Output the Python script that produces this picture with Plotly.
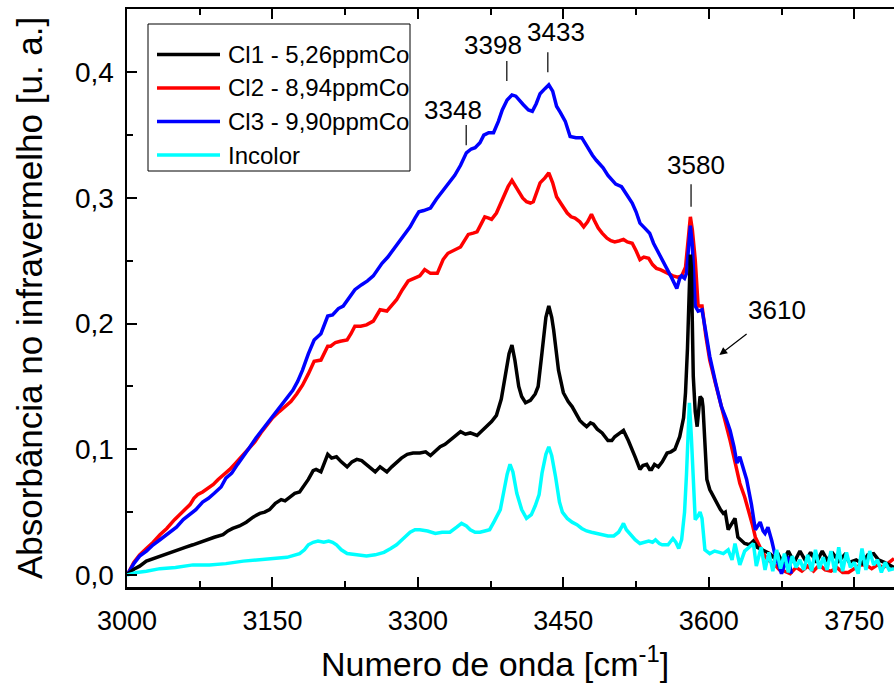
import plotly.graph_objects as go

# ---------------- data ----------------
names = ["Cl1 - 5,26ppmCo", "Cl2 - 8,94ppmCo", "Cl3 - 9,90ppmCo", "Incolor"]
colors = ["#000000", "#FF0000", "#0000FF", "#00FFFF"]

cl1_x = [3000, 3001, 3008, 3013, 3020, 3027, 3034, 3042, 3051, 3060, 3068, 3075, 3082, 3090, 3099, 3104, 3109, 3116,
         3123, 3130, 3137, 3142, 3147, 3153, 3159, 3163, 3168, 3173, 3178, 3183, 3187, 3192, 3195, 3200, 3204, 3207,
         3211, 3216, 3221, 3227, 3232, 3237, 3242, 3247, 3252, 3256, 3261, 3265, 3268, 3273, 3278, 3283, 3289, 3295,
         3302, 3308, 3313, 3318, 3323, 3328, 3333, 3338, 3344, 3349, 3354, 3361, 3366, 3371, 3376, 3381, 3386, 3390,
         3394, 3397, 3400, 3404, 3407, 3411, 3416, 3421, 3424, 3428, 3432, 3435, 3438, 3440, 3445, 3450, 3455, 3459,
         3463, 3467, 3471, 3474, 3478, 3481, 3485, 3490, 3496, 3500, 3503, 3508, 3512, 3517, 3521, 3524, 3529, 3532,
         3536, 3539, 3541, 3544, 3548, 3552, 3557, 3561, 3565, 3570, 3574, 3576, 3578, 3580, 3581, 3582, 3583, 3584,
         3586, 3588, 3591, 3593, 3594, 3596, 3598, 3601, 3603, 3606, 3609, 3612, 3615, 3617, 3620, 3624, 3627, 3630,
         3634, 3637, 3642, 3646, 3650, 3655, 3659, 3663, 3668, 3672, 3676, 3682, 3688, 3694, 3700, 3705, 3711, 3717,
         3722, 3728, 3734, 3740, 3745, 3752, 3758, 3764, 3770, 3775, 3781, 3786, 3791]
cl1_y = [0.000, 0.001, 0.005, 0.007, 0.011, 0.013, 0.015, 0.017, 0.020, 0.022, 0.024, 0.026, 0.028, 0.030, 0.032,
         0.035, 0.037, 0.039, 0.042, 0.046, 0.049, 0.050, 0.052, 0.057, 0.060, 0.059, 0.062, 0.065, 0.066, 0.071,
         0.076, 0.083, 0.084, 0.082, 0.090, 0.096, 0.093, 0.094, 0.090, 0.086, 0.090, 0.092, 0.091, 0.088, 0.085,
         0.082, 0.086, 0.084, 0.082, 0.086, 0.090, 0.093, 0.096, 0.097, 0.097, 0.098, 0.095, 0.099, 0.102, 0.104,
         0.107, 0.110, 0.114, 0.112, 0.113, 0.111, 0.115, 0.119, 0.122, 0.127, 0.140, 0.158, 0.176, 0.183, 0.171,
         0.150, 0.142, 0.137, 0.139, 0.144, 0.150, 0.177, 0.205, 0.214, 0.205, 0.195, 0.163, 0.145, 0.138, 0.134,
         0.128, 0.123, 0.120, 0.118, 0.121, 0.120, 0.116, 0.113, 0.107, 0.107, 0.110, 0.113, 0.115, 0.107, 0.100,
         0.094, 0.084, 0.087, 0.088, 0.084, 0.084, 0.088, 0.086, 0.090, 0.097, 0.098, 0.100, 0.110, 0.125, 0.145,
         0.180, 0.230, 0.255, 0.245, 0.200, 0.158, 0.130, 0.118, 0.142, 0.140, 0.134, 0.100, 0.076, 0.068, 0.065,
         0.062, 0.057, 0.052, 0.049, 0.050, 0.036, 0.042, 0.045, 0.030, 0.027, 0.025, 0.024, 0.027, 0.022, 0.020,
         0.018, 0.017, 0.013, 0.016, 0.010, 0.019, 0.010, 0.019, 0.011, 0.018, 0.010, 0.019, 0.012, 0.017, 0.011,
         0.016, 0.010, 0.012, 0.009, 0.016, 0.017, 0.012, 0.010, 0.008, 0.006]

cl2_x = [3000, 3001, 3007, 3013, 3020, 3027, 3034, 3041, 3049, 3057, 3065, 3069, 3073, 3078, 3083, 3089, 3094, 3100,
         3106, 3112, 3118, 3125, 3132, 3138, 3144, 3150, 3157, 3163, 3169, 3175, 3181, 3187, 3193, 3200, 3204, 3207,
         3210, 3215, 3220, 3227, 3231, 3235, 3241, 3247, 3254, 3258, 3261, 3268, 3273, 3278, 3284, 3290, 3296, 3302,
         3307, 3313, 3320, 3326, 3331, 3337, 3344, 3348, 3352, 3357, 3361, 3365, 3369, 3373, 3376, 3381, 3385, 3388,
         3393, 3397, 3401, 3404, 3408, 3412, 3416, 3419, 3423, 3426, 3431, 3435, 3439, 3443, 3448, 3454, 3458, 3462,
         3467, 3471, 3475, 3479, 3482, 3486, 3490, 3495, 3499, 3503, 3508, 3512, 3516, 3521, 3525, 3529, 3533, 3538,
         3542, 3546, 3550, 3555, 3559, 3563, 3568, 3572, 3576, 3579, 3581, 3583, 3586, 3589, 3593, 3597, 3601, 3607,
         3613, 3618, 3622, 3627, 3632, 3637, 3641, 3645, 3648, 3652, 3656, 3661, 3667, 3673, 3678, 3684, 3690, 3696,
         3702, 3708, 3714, 3720, 3726, 3732, 3738, 3744, 3750, 3756, 3762, 3768, 3774, 3780, 3786, 3791]
cl2_y = [0.000, 0.001, 0.010, 0.016, 0.021, 0.026, 0.032, 0.037, 0.044, 0.050, 0.056, 0.061, 0.064, 0.066, 0.069,
         0.072, 0.076, 0.080, 0.084, 0.089, 0.094, 0.100, 0.106, 0.113, 0.119, 0.125, 0.130, 0.134, 0.138, 0.144,
         0.151, 0.160, 0.170, 0.171, 0.177, 0.182, 0.182, 0.185, 0.186, 0.187, 0.192, 0.198, 0.198, 0.199, 0.202,
         0.207, 0.211, 0.210, 0.214, 0.219, 0.227, 0.234, 0.236, 0.238, 0.243, 0.240, 0.240, 0.251, 0.256, 0.258,
         0.261, 0.266, 0.271, 0.272, 0.273, 0.279, 0.285, 0.284, 0.283, 0.288, 0.295, 0.301, 0.309, 0.314, 0.309,
         0.304, 0.300, 0.297, 0.296, 0.297, 0.305, 0.312, 0.316, 0.320, 0.312, 0.301, 0.295, 0.288, 0.285, 0.284,
         0.281, 0.277, 0.281, 0.287, 0.282, 0.276, 0.272, 0.268, 0.266, 0.265, 0.266, 0.267, 0.265, 0.264, 0.258,
         0.251, 0.253, 0.252, 0.247, 0.244, 0.243, 0.241, 0.240, 0.238, 0.237, 0.238, 0.245, 0.270, 0.285, 0.275,
         0.251, 0.214, 0.214, 0.190, 0.171, 0.152, 0.134, 0.120, 0.107, 0.090, 0.073, 0.062, 0.052, 0.040, 0.030,
         0.023, 0.017, 0.012, 0.009, 0.004, 0.003, 0.001, 0.006, 0.003, 0.007, 0.003, 0.008, 0.004, 0.003, 0.006,
         0.002, 0.002, 0.005, 0.008, 0.008, 0.005, 0.008, 0.006, 0.010, 0.013]

cl3_x = [3000, 3001, 3007, 3013, 3020, 3027, 3034, 3042, 3051, 3058, 3065, 3071, 3078, 3084, 3090, 3097, 3102, 3108,
         3114, 3120, 3126, 3133, 3140, 3147, 3153, 3159, 3165, 3171, 3176, 3181, 3187, 3193, 3200, 3204, 3207, 3212,
         3218, 3223, 3229, 3235, 3242, 3248, 3254, 3259, 3263, 3269, 3275, 3281, 3287, 3292, 3297, 3301, 3306, 3313,
         3319, 3325, 3331, 3338, 3344, 3350, 3355, 3359, 3364, 3368, 3373, 3378, 3383, 3387, 3392, 3397, 3401, 3405,
         3409, 3414, 3418, 3422, 3426, 3431, 3435, 3439, 3443, 3447, 3452, 3457, 3463, 3469, 3473, 3476, 3480, 3484,
         3488, 3491, 3496, 3500, 3504, 3510, 3515, 3521, 3525, 3529, 3534, 3539, 3543, 3548, 3553, 3558, 3562, 3567,
         3570, 3572, 3575, 3577, 3579, 3581, 3583, 3584, 3586, 3589, 3593, 3597, 3601, 3607, 3613, 3618, 3622, 3626,
         3629, 3632, 3635, 3639, 3644, 3648, 3653, 3656, 3658, 3661, 3665, 3668, 3672, 3675, 3679, 3682, 3685]
cl3_y = [0.000, 0.001, 0.009, 0.015, 0.019, 0.024, 0.028, 0.033, 0.038, 0.044, 0.048, 0.052, 0.058, 0.061, 0.065,
         0.070, 0.077, 0.081, 0.088, 0.094, 0.101, 0.109, 0.116, 0.123, 0.129, 0.135, 0.140, 0.147, 0.154, 0.163,
         0.176, 0.187, 0.192, 0.200, 0.206, 0.207, 0.212, 0.214, 0.221, 0.227, 0.231, 0.234, 0.238, 0.244, 0.248,
         0.253, 0.259, 0.265, 0.272, 0.277, 0.284, 0.289, 0.290, 0.292, 0.299, 0.305, 0.311, 0.318, 0.326, 0.336,
         0.339, 0.340, 0.344, 0.350, 0.352, 0.352, 0.361, 0.370, 0.378, 0.382, 0.381, 0.377, 0.374, 0.370, 0.369,
         0.375, 0.383, 0.387, 0.390, 0.385, 0.373, 0.368, 0.361, 0.349, 0.348, 0.348, 0.343, 0.338, 0.334, 0.330,
         0.327, 0.324, 0.318, 0.314, 0.311, 0.309, 0.303, 0.296, 0.289, 0.280, 0.276, 0.272, 0.264, 0.257, 0.250,
         0.243, 0.236, 0.228, 0.236, 0.238, 0.236, 0.240, 0.262, 0.278, 0.262, 0.245, 0.214, 0.210, 0.211, 0.193,
         0.174, 0.153, 0.134, 0.124, 0.115, 0.102, 0.089, 0.094, 0.086, 0.076, 0.056, 0.036, 0.042, 0.035, 0.033,
         0.038, 0.027, 0.017, 0.008, 0.001, 0.010, 0.015, 0.001]

inc_x = [3000, 3010, 3020, 3034, 3050, 3068, 3085, 3102, 3120, 3137, 3154, 3165, 3178, 3183, 3187, 3192, 3197, 3203,
         3208, 3212, 3216, 3221, 3227, 3235, 3247, 3256, 3265, 3272, 3278, 3285, 3292, 3297, 3302, 3310, 3318, 3325,
         3333, 3340, 3345, 3350, 3354, 3359, 3364, 3369, 3374, 3379, 3385, 3389, 3392, 3395, 3398, 3402, 3407, 3412,
         3417, 3421, 3425, 3428, 3432, 3435, 3438, 3442, 3446, 3449, 3454, 3459, 3464, 3469, 3474, 3479, 3484, 3490,
         3496, 3502, 3507, 3510, 3512, 3515, 3519, 3524, 3529, 3534, 3538, 3542, 3545, 3549, 3552, 3558, 3563, 3566,
         3569, 3572, 3575, 3577, 3579, 3580, 3582, 3584, 3586, 3589, 3591, 3593, 3596, 3601, 3606, 3611, 3615, 3620,
         3624, 3627, 3632, 3637, 3642, 3646, 3649, 3654, 3658, 3662, 3666, 3670, 3674, 3678, 3682, 3686, 3690, 3694,
         3698, 3702, 3706, 3710, 3714, 3718, 3722, 3726, 3730, 3734, 3738, 3742, 3746, 3750, 3754, 3758, 3762, 3766,
         3770, 3774, 3778, 3782, 3786, 3791]
inc_y = [0.000, 0.002, 0.003, 0.005, 0.006, 0.008, 0.008, 0.009, 0.011, 0.012, 0.013, 0.014, 0.017, 0.020, 0.024,
         0.026, 0.027, 0.026, 0.027, 0.026, 0.024, 0.020, 0.017, 0.016, 0.015, 0.016, 0.018, 0.021, 0.024, 0.029,
         0.034, 0.036, 0.036, 0.035, 0.033, 0.034, 0.034, 0.038, 0.041, 0.039, 0.036, 0.034, 0.034, 0.035, 0.036,
         0.043, 0.052, 0.068, 0.080, 0.088, 0.082, 0.065, 0.052, 0.045, 0.048, 0.055, 0.064, 0.081, 0.096, 0.102,
         0.095, 0.078, 0.058, 0.050, 0.045, 0.042, 0.040, 0.037, 0.035, 0.034, 0.033, 0.032, 0.031, 0.031, 0.034,
         0.038, 0.041, 0.036, 0.032, 0.028, 0.025, 0.026, 0.027, 0.026, 0.028, 0.025, 0.024, 0.024, 0.029, 0.026,
         0.021, 0.028, 0.050, 0.080, 0.120, 0.137, 0.110, 0.070, 0.044, 0.047, 0.050, 0.045, 0.020, 0.017, 0.019,
         0.018, 0.017, 0.020, 0.012, 0.025, 0.008, 0.019, 0.022, 0.025, 0.007, 0.022, 0.004, 0.018, 0.003, 0.020,
         0.005, 0.017, 0.002, 0.015, 0.006, 0.012, 0.004, 0.016, 0.003, 0.020, 0.005, 0.014, 0.004, 0.019, 0.002,
         0.022, 0.003, 0.018, 0.006, 0.010, 0.001, 0.021, 0.004, 0.019, 0.008, 0.012, 0.002, 0.010, 0.004, 0.005]

x_range = [3000, 3791]
y_range = [-0.0096, 0.4504]
x_tick_step = 150
y_tick_step = 0.1

x_title = "Numero de onda [cm<sup>-1</sup>]"
y_title = "Absorbância no infravermelho [u. a.]"

# peak labels: (text, tick x, tick y0, tick y1, label x, label y)
peak_labels = [
    ("3348", 3349.8, 0.342, 0.358, 3336.4, 0.370),
    ("3398", 3391.7, 0.393, 0.409, 3377.6, 0.422),
    ("3433", 3434.0, 0.400, 0.416, 3442.5, 0.432),
    ("3580", 3581.7, 0.293, 0.311, 3586.9, 0.326),
]
# arrow label: (text, tip x, tip y)
arrow_label = ("3610", 3610.9, 0.175)

# ---------------- figure ----------------
W, H = 894, 684
ML, MR, MT, MB = 127, 0, 9, 97

fig = go.Figure()
series = [(cl2_x, cl2_y, 1), (cl3_x, cl3_y, 2), (cl1_x, cl1_y, 0), (inc_x, inc_y, 3)]
for xs, ys, i in series:
    fig.add_trace(go.Scatter(x=xs, y=ys, mode="lines", name=names[i],
                             line=dict(color=colors[i], width=3.5), showlegend=False,
                             hoverinfo="skip"))

FONT = "Liberation Sans, Arial, sans-serif"
annotations = []
shapes = []

for txt, tx, ty0, ty1, lx, ly in peak_labels:
    shapes.append(dict(type="line", xref="x", yref="y", x0=tx, x1=tx, y0=ty0, y1=ty1,
                       line=dict(color="black", width=1.2)))
    annotations.append(dict(x=lx, y=ly, xref="x", yref="y", text=txt, showarrow=False,
                            font=dict(size=26, color="black", family=FONT),
                            xanchor="center", yanchor="middle"))

txt, tipx, tipy = arrow_label
annotations.append(dict(x=tipx, y=tipy, xref="x", yref="y", text=txt, showarrow=True,
                        ax=58, ay=-45, arrowhead=2, arrowsize=1.3, arrowwidth=1.2,
                        arrowcolor="black", startstandoff=12,
                        font=dict(size=26, color="black", family=FONT)))

pw = W - ML - MR
ph = H - MT - MB
def px(x):
    return (x - ML) / pw
def py(y):
    return (H - MB - y) / ph

# axis titles (placed as in the reference)
annotations.append(dict(x=px(495), y=py(662), xref="paper", yref="paper", text=x_title, showarrow=False,
                        font=dict(size=34, color="black", family=FONT), xanchor="center", yanchor="middle"))
annotations.append(dict(x=px(29), y=py(298), xref="paper", yref="paper", text=y_title, showarrow=False,
                        textangle=-90, font=dict(size=35, color="black", family=FONT),
                        xanchor="center", yanchor="middle"))

# legend box drawn in paper coordinates
shapes.append(dict(type="rect", xref="paper", yref="paper", x0=px(148), x1=px(410), y0=py(171), y1=py(24),
                   line=dict(color="black", width=1), fillcolor="white", layer="above"))
rows = [54.5, 88, 121.5, 155]
for i, r in enumerate(rows):
    shapes.append(dict(type="line", xref="paper", yref="paper", x0=px(157), x1=px(220), y0=py(r), y1=py(r),
                       line=dict(color=colors[i], width=3.5), layer="above"))
    annotations.append(dict(x=px(226), y=py(r), xref="paper", yref="paper", text=names[i], showarrow=False,
                            font=dict(size=24, color="black", family=FONT), xanchor="left", yanchor="middle"))

fig.update_layout(
    width=W, height=H,
    margin=dict(l=ML, r=MR, t=MT, b=MB, pad=0),
    paper_bgcolor="white", plot_bgcolor="white",
    separators=", ",
    font=dict(family=FONT, color="black"),
    showlegend=False, hovermode=False,
    annotations=annotations, shapes=shapes,
)
fig.update_xaxes(
    range=x_range, dtick=x_tick_step, tick0=3000, tickformat="d",
    ticks="inside", ticklen=10, tickwidth=2, tickcolor="black",
    minor=dict(dtick=x_tick_step / 2, ticks="inside", ticklen=6, tickwidth=2, tickcolor="black"),
    showline=True, linewidth=2.5, linecolor="black", mirror="ticks",
    showgrid=False, zeroline=False,
    tickfont=dict(size=27, family=FONT, color="black"),
    ticklabelstandoff=8,
)
fig.update_yaxes(
    range=y_range, dtick=y_tick_step, tick0=0, tickformat=".1f",
    ticks="inside", ticklen=10, tickwidth=2, tickcolor="black",
    minor=dict(dtick=y_tick_step / 2, ticks="inside", ticklen=6, tickwidth=2, tickcolor="black"),
    showline=True, linewidth=2.5, linecolor="black", mirror=False,
    showgrid=False, zeroline=False,
    tickfont=dict(size=28, family=FONT, color="black"),
    ticklabelstandoff=5,
)

fig.write_html("out.html", config={"displayModeBar": False, "staticPlot": True},
               post_script="document.body.style.margin='0';")
